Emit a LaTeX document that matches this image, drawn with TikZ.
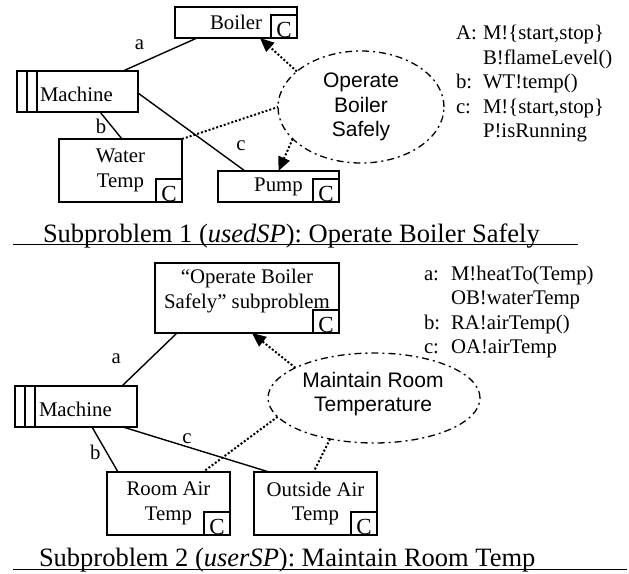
\documentclass[tikz,border=0pt]{standalone}
\usepackage{fontspec}
\setmainfont{Liberation Serif}
\newfontfamily\lsansfam{Liberation Sans}
\usetikzlibrary{arrows.meta,shapes.geometric}
\newcommand\bodyfont{\fontsize{20.8pt}{24.5pt}\selectfont}
\newcommand\capfont{\fontsize{26.5pt}{30pt}\selectfont}
\newcommand\goalfont{\lsansfam\fontsize{21pt}{24.5pt}\selectfont}
\newcommand\cfont{\fontsize{23pt}{26pt}\selectfont}
\tikzset{
  box/.style={draw, line width=1.6pt, inner sep=0pt, outer sep=0pt, font=\bodyfont, align=center},
  cbox/.style={draw, line width=1.4pt, inner sep=0pt, outer sep=0pt, minimum width=26pt, minimum height=23pt, font=\cfont, text height=22pt, text depth=0pt, anchor=south east},
  txt/.style={inner sep=0pt, outer sep=0pt, font=\bodyfont},
  goal/.style={ellipse, draw, line width=1.3pt, dash pattern=on 7pt off 4pt on 2pt off 4pt, inner sep=0pt, outer sep=0pt, font=\goalfont, align=center},
  link/.style={line width=1.4pt},
  stripe/.style={line width=1.4pt},
  dotlink/.style={line width=2pt, dash pattern=on 2pt off 2pt},
  dotarrow/.style={dotlink, -{Triangle[length=14pt,width=12pt]}},
  uline/.style={line width=1.5pt}
}
\begin{document}
\begin{tikzpicture}[x=1pt,y=-1pt]
\useasboundingbox (0,0) rectangle (629,573);
% ---------- Subproblem 1 ----------
\node[box, minimum width=122pt, minimum height=31pt] (boiler) at (236,22.5) {Boiler};
\node[cbox] (boilerC) at (boiler.south east) {C};
\node[box, minimum width=121pt, minimum height=41pt] (m1) at (77.5,91.5) {};
\draw[stripe] ([xshift=10pt]m1.north west) -- ([xshift=10pt]m1.south west);
\draw[stripe] ([xshift=20pt]m1.north west) -- ([xshift=20pt]m1.south west);
\node[txt, anchor=base west] (m1T) at (40,101.5) {Machine};
\node[box, minimum width=123pt, minimum height=63pt] (wt) at (120.5,170.5) {Water\\Temp};
\node[cbox] (wtC) at (wt.south east) {C};
\node[box, minimum width=121pt, minimum height=31pt] (pump) at (278.5,186.5) {Pump};
\node[cbox] (pumpC) at (pump.south east) {C};
\node[goal, minimum width=166pt, minimum height=112pt] (e1) at (361,107) {Operate\\Boiler\\Safely};

\draw[link] ([xshift=22pt]boiler.south west) -- ([xshift=-15pt]m1.north east);
\draw[link] ([xshift=83pt]m1.south west) -- ([xshift=63pt]wt.north west);
\draw[link] ([yshift=-1.5pt]m1.east) -- ([xshift=27pt]pump.north west);
\node[txt] (la1) at (139.5,45) {a};
\node[txt] (lb1) at (101,126.7) {b};
\node[txt] (lc1) at (241,146) {c};

\draw[dotarrow] (e1.151) -- ([xshift=24pt]boiler.south);
\draw[dotarrow] (e1.205) -- (pump.north);
\draw[dotlink] (wt.north east) -- (e1.west);

\node[txt, anchor=base west] (msg1) at (456,39.5) {\begin{tabular}[t]{@{}p{27pt}@{}l@{}}
A: & M!\{start,stop\}\\
   & B!flameLevel()\\
b: & WT!temp()\\
c: & M!\{start,stop\}\\
   & P!isRunning
\end{tabular}};

\node[txt, font=\capfont, anchor=base west] (cap1) at (43,242) {Subproblem 1 (\textit{usedSP}): Operate Boiler Safely};
\coordinate (u1a) at (13,244.5);
\coordinate (u1b) at (578,244.5);
\draw[uline] (u1a) -- (u1b);

% ---------- Subproblem 2 ----------
\node[box, minimum width=184pt, minimum height=70pt] (obs) at (247,298) {};
\node[txt, align=center] (obsT) at (247,291) {“Operate Boiler\\Safely” subproblem};
\node[cbox] (obsC) at (obs.south east) {C};
\node[box, minimum width=122pt, minimum height=41pt] (m2) at (76,406.5) {};
\draw[stripe] ([xshift=10pt]m2.north west) -- ([xshift=10pt]m2.south west);
\draw[stripe] ([xshift=20pt]m2.north west) -- ([xshift=20pt]m2.south west);
\node[txt, anchor=base west] (m2T) at (39,416.5) {Machine};
\node[box, minimum width=123pt, minimum height=63pt] (ra) at (168.5,503.5) {Room Air\\Temp};
\node[cbox] (raC) at (ra.south east) {C};
\node[box, minimum width=123pt, minimum height=63pt] (oa) at (315.5,503.5) {Outside Air\\Temp};
\node[cbox] (oaC) at (oa.south east) {C};
\node[goal, minimum width=212pt, minimum height=90pt] (e2) at (374,398) {};
\node[txt, font=\goalfont, align=center] (e2T) at (373,394) {Maintain Room\\Temperature};

\draw[link] ([xshift=22pt]obs.south west) -- ([xshift=-15pt]m2.north east);
\draw[link] ([xshift=77pt]m2.south west) -- ([xshift=11pt]ra.north west);
\draw[link] ([xshift=-14pt]m2.south east) -- ([xshift=15pt]oa.north west);
\node[txt] (la2) at (116.3,358.7) {a};
\node[txt] (lb2) at (95.3,452.5) {b};
\node[txt] (lc2) at (187,438.3) {c};

\draw[dotarrow] (e2.159) -- ([xshift=5pt]obs.south);
\draw[dotlink] (e2.191) -- ([xshift=-27pt]ra.north east);
\draw[dotlink] (e2.223) -- ([xshift=-2pt]oa.north);

\node[txt, anchor=base west] (msg2) at (424,280) {\begin{tabular}[t]{@{}p{27pt}@{}l@{}}
a: & M!heatTo(Temp)\\
   & OB!waterTemp\\
b: & RA!airTemp()\\
c: & OA!airTemp
\end{tabular}};

\node[txt, font=\capfont, anchor=base west] (cap2) at (39,566.5) {Subproblem 2 (\textit{userSP}): Maintain Room Temp};
\coordinate (u2a) at (13,569.5);
\coordinate (u2b) at (627,569.5);
\draw[uline] (u2a) -- (u2b);
\end{tikzpicture}
\end{document}
